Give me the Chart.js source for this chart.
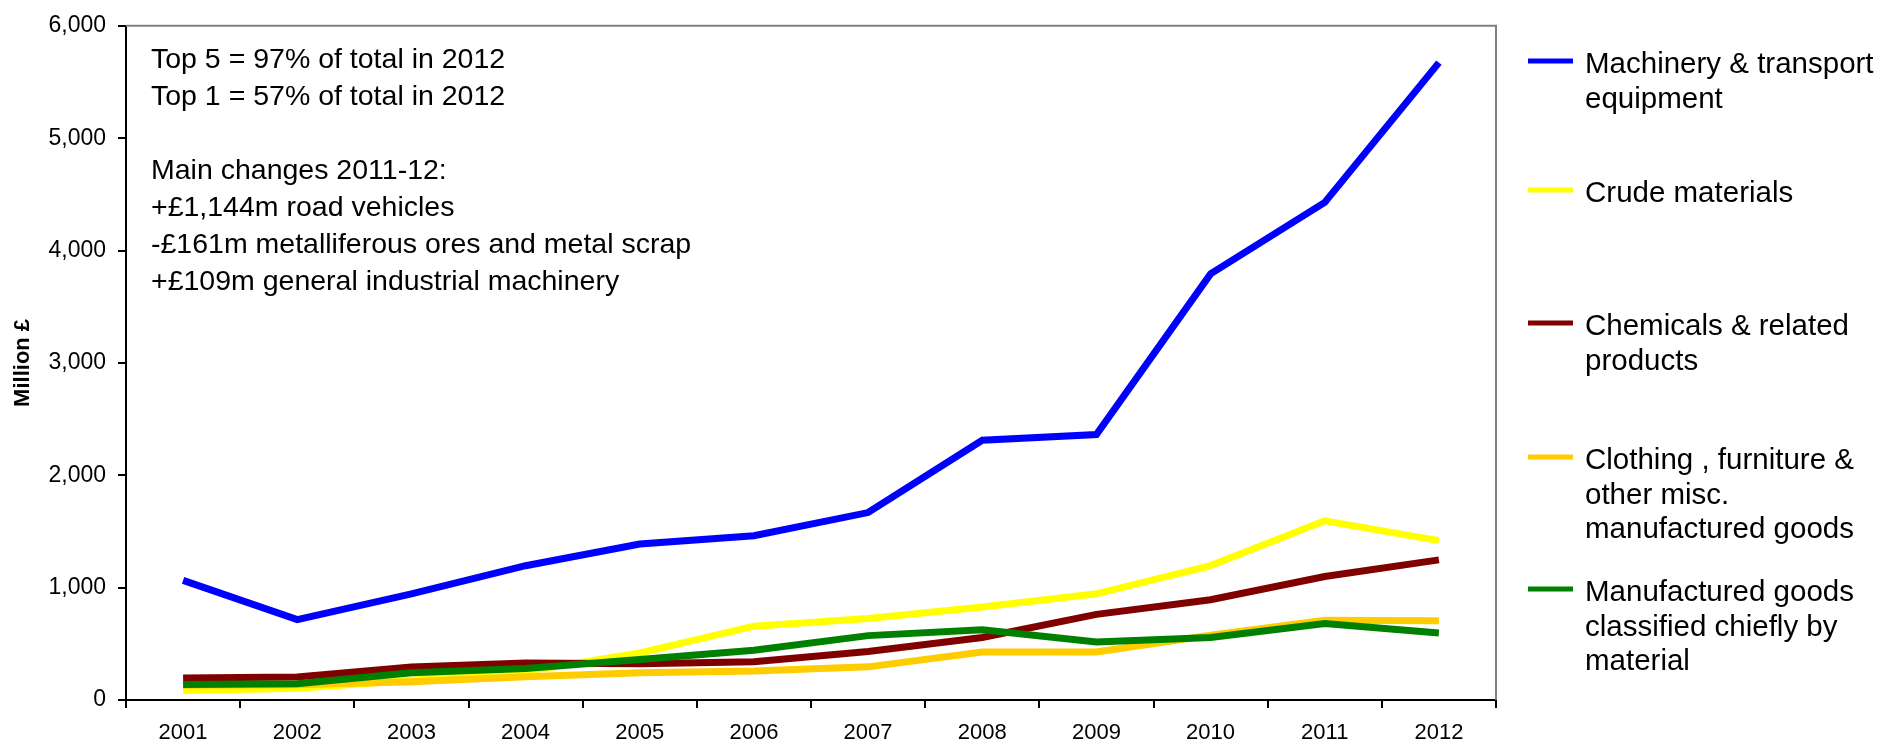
<!DOCTYPE html>
<html>
<head>
<meta charset="utf-8">
<script src="https://cdn.jsdelivr.net/npm/chart.js@4/dist/chart.umd.min.js"></script>
<style>
  html, body { margin: 0; padding: 0; background: #ffffff; }
  #wrap { width: 1885px; height: 748px; position: relative; }
</style>
</head>
<body>
<div id="wrap"><canvas id="c" width="1885" height="748"></canvas></div>
<script>
const years = ['2001','2002','2003','2004','2005','2006','2007','2008','2009','2010','2011','2012'];
const machinery    = [1065, 715, 945, 1195, 1388, 1462, 1668, 2312, 2362, 3792, 4428, 5672];
const crude        = [85, 105, 175, 255, 418, 657, 725, 828, 945, 1196, 1595, 1418];
const chemicals    = [195, 205, 293, 330, 322, 340, 432, 556, 762, 892, 1099, 1247];
const clothing     = [132, 135, 162, 207, 242, 257, 295, 428, 428, 576, 709, 705];
const manufactured = [137, 145, 242, 281, 361, 443, 573, 626, 517, 556, 680, 597];

const seriesNames = [
  'Machinery & transport equipment',
  'Crude materials',
  'Chemicals & related products',
  'Clothing , furniture & other misc. manufactured goods',
  'Manufactured goods classified chiefly by material'
];
const legendLines = [
  ['Machinery & transport', 'equipment'],
  ['Crude materials'],
  ['Chemicals & related', 'products'],
  ['Clothing , furniture &', 'other misc.', 'manufactured goods'],
  ['Manufactured goods', 'classified chiefly by', 'material']
];
const seriesColors = ['#0000FF', '#FFFF00', '#800000', '#FFCC00', '#008000'];
const yTicks = [0, 1000, 2000, 3000, 4000, 5000, 6000];
const yTitle = 'Million £';
const noteLines = [
  'Top 5 = 97% of total in 2012',
  'Top 1 = 57% of total in 2012',
  '',
  'Main changes 2011-12:',
  '+£1,144m road vehicles',
  '-£161m metalliferous ores and metal scrap',
  '+£109m general industrial machinery'
];

const FONT = "'Liberation Sans', Arial, Helvetica, sans-serif";
const allSeries = [machinery, crude, chemicals, clothing, manufactured];

const datasets = allSeries.map((d, i) => ({
  label: seriesNames[i],
  data: d,
  borderColor: seriesColors[i],
  backgroundColor: seriesColors[i],
  borderWidth: 7,
  pointRadius: 0,
  pointHoverRadius: 0,
  tension: 0,
  fill: false,
  borderCapStyle: 'butt',
  borderJoinStyle: 'miter',
  order: allSeries.length - i
}));

const framePlugin = {
  id: 'frame',
  beforeDatasetsDraw(chart) {
    const ctx = chart.ctx, a = chart.chartArea;
    ctx.save();
    ctx.strokeStyle = '#808080';
    ctx.lineWidth = 2;
    ctx.beginPath();
    ctx.moveTo(a.left, a.top);
    ctx.lineTo(a.right, a.top);
    ctx.lineTo(a.right, a.bottom);
    ctx.stroke();
    ctx.restore();
  },
  afterDraw(chart) {
    const ctx = chart.ctx;
    ctx.save();
    ctx.fillStyle = '#000000';
    ctx.textBaseline = 'alphabetic';
    ctx.textAlign = 'left';
    // annotation
    ctx.font = '28.5px ' + FONT;
    noteLines.forEach((t, i) => {
      if (t) ctx.fillText(t, 151, 68 + i * 37);
    });
    // legend
    const firstBase = [73, 202, 335, 469, 601];
    legendLines.forEach((lines, i) => {
      const b = firstBase[i];
      ctx.strokeStyle = seriesColors[i];
      ctx.lineWidth = 5;
      ctx.beginPath();
      ctx.moveTo(1528, b - 12);
      ctx.lineTo(1573, b - 12);
      ctx.stroke();
      ctx.font = '29.5px ' + FONT;
      lines.forEach((t, j) => ctx.fillText(t, 1585, b + j * 34.5));
    });
    ctx.restore();
  }
};

new Chart(document.getElementById('c'), {
  type: 'line',
  data: { labels: years, datasets },
  options: {
    responsive: false,
    animation: false,
    layout: { padding: { left: 0, right: 389, top: 23, bottom: 0 } },
    plugins: { legend: { display: false }, tooltip: { enabled: false } },
    scales: {
      x: {
        offset: true,
        grid: { offset: true, drawOnChartArea: false, drawTicks: true, tickLength: 8, color: '#000000', lineWidth: 2 },
        border: { display: true, color: '#000000', width: 2 },
        ticks: { color: '#000000', font: { family: FONT, size: 22 }, padding: 12, maxRotation: 0, autoSkip: false },
        afterFit(s) { s.height = 48; }
      },
      y: {
        min: 0, max: 6000,
        afterBuildTicks(s) { s.ticks = yTicks.map(v => ({ value: v })); },
        grid: { drawOnChartArea: false, drawTicks: true, tickLength: 8, color: '#000000', lineWidth: 2 },
        border: { display: true, color: '#000000', width: 2 },
        ticks: {
          color: '#000000', font: { family: FONT, size: 23 }, padding: 12,
          callback: v => Number(v).toLocaleString('en-GB')
        },
        title: { display: true, text: yTitle, color: '#000000', font: { family: FONT, size: 22, weight: 'bold' }, padding: { top: 10, bottom: 0 } },
        afterFit(s) { s.width = 126; }
      }
    }
  },
  plugins: [framePlugin]
});
</script>
</body>
</html>
